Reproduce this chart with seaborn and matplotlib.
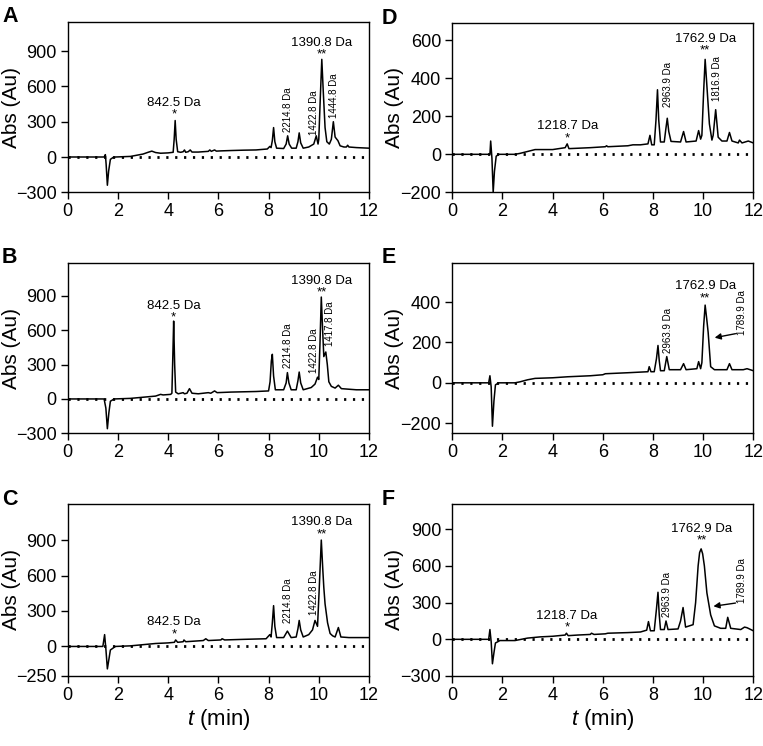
import numpy as np
import pandas as pd
import matplotlib
matplotlib.use("Agg")
import matplotlib.pyplot as plt
import seaborn as sns

# chromatogram traces: retention time (min) and absorbance (Au)
a_t = [0, 1.45, 1.5, 1.53, 1.58, 1.63, 1.7, 1.8, 1.9, 2.5, 3.0, 3.2, 3.35, 3.5, 3.7, 4.0, 4.2, 4.24, 4.28, 4.32,
       4.38, 4.5, 4.6, 4.65, 4.7, 4.8, 4.88, 4.95, 5.2, 5.6, 5.66, 5.72, 5.85, 5.92, 6.1, 6.5, 7.0, 7.5, 7.95, 8.05,
       8.1, 8.15, 8.2, 8.25, 8.32, 8.6, 8.7, 8.76, 8.82, 8.92, 9.1, 9.17, 9.22, 9.28, 9.38, 9.6, 9.8, 9.9, 9.97,
       10.0, 10.06, 10.12, 10.18, 10.25, 10.32, 10.42, 10.5, 10.58, 10.65, 10.72, 10.76, 10.85, 11.0, 11.1, 11.15,
       11.2, 11.5, 12.0]
a_y = [0, 0, 20, -60, -240, -120, -20, -5, 0, 5, 25, 40, 50, 38, 32, 35, 40, 150, 310, 150,
       45, 40, 45, 60, 40, 45, 60, 42, 42, 48, 60, 48, 60, 50, 52, 55, 58, 60, 68, 90,
       80, 140, 250, 130, 75, 72, 110, 180, 110, 75, 75, 130, 205, 120, 75, 85, 110, 180, 110,
       150, 500, 830, 550, 250, 130, 110, 150, 300, 170, 150, 140, 95, 85, 85, 100,
       85, 80, 75]

b_t = [0, 1.45, 1.52, 1.58, 1.64, 1.7, 1.85, 2.5, 3.0, 3.5, 3.7, 3.8, 4.1, 4.15, 4.19, 4.22, 4.26, 4.3, 4.4,
       4.6, 4.65, 4.75, 4.85, 4.95, 5.2, 5.6, 5.7, 5.85, 5.95, 6.5, 7.5, 8.0, 8.06, 8.11, 8.15, 8.2, 8.27, 8.6,
       8.7, 8.75, 8.81, 8.9, 9.1, 9.17, 9.22, 9.28, 9.38, 9.7, 9.85, 9.95, 10.0, 10.05, 10.1, 10.15, 10.2, 10.28,
       10.34, 10.4, 10.5, 10.65, 10.78, 10.9, 11.5, 12.0]
b_y = [0, 0, -80, -260, -120, -20, 0, 5, 15, 25, 40, 35, 40, 50, 400, 680, 300, 60, 45,
       55, 45, 50, 90, 50, 45, 55, 50, 70, 55, 60, 65, 70, 150, 330, 390, 200, 80, 80,
       140, 230, 140, 80, 80, 160, 235, 140, 80, 100, 130, 190, 170, 500, 890, 620, 370, 410,
       300, 150, 110, 95, 120, 90, 80, 80]

c_t = [0, 1.4, 1.47, 1.52, 1.58, 1.64, 1.7, 1.9, 2.5, 3.0, 3.5, 4.0, 4.25, 4.3, 4.38, 4.6, 4.63, 4.7, 5.4, 5.5,
       5.6, 6.1, 6.15, 6.25, 7.0, 7.9, 8.05, 8.1, 8.15, 8.2, 8.25, 8.32, 8.6, 8.75, 8.9, 9.1, 9.17, 9.22, 9.28,
       9.38, 9.6, 9.75, 9.85, 9.95, 10.02, 10.1, 10.16, 10.2, 10.25, 10.35, 10.45, 10.55, 10.65, 10.78, 10.88,
       11.2, 12.0]
c_y = [0, 0, 100, -20, -190, -110, -30, 0, 5, 15, 25, 30, 35, 55, 35, 40, 55, 40, 50, 65,
       50, 55, 65, 55, 60, 65, 100, 80, 200, 345, 170, 75, 75, 130, 75, 80, 150, 220, 140,
       80, 100, 140, 220, 170, 500, 900, 650, 500, 360, 200, 110, 90, 80, 160, 80,
       75, 75]

d_t = [0, 1.5, 1.53, 1.58, 1.63, 1.68, 1.75, 1.85, 2.5, 2.7, 3.0, 3.3, 3.5, 4.0, 4.5, 4.58, 4.65, 5.0, 5.5,
       6.1, 6.15, 6.2, 7.0, 7.2, 7.5, 7.8, 7.88, 7.95, 8.05, 8.12, 8.18, 8.23, 8.3, 8.45, 8.51, 8.57, 8.63, 8.72,
       9.1, 9.22, 9.32, 9.72, 9.82, 9.9, 9.95, 10.02, 10.08, 10.14, 10.25, 10.35, 10.4, 10.5, 10.6, 10.75, 10.95,
       11.05, 11.15, 11.4, 11.45, 11.55, 11.8, 12.0]
d_y = [0, 0, 70, -20, -200, -90, -10, 0, 0, 5, 15, 25, 25, 25, 35, 55, 30, 32, 35,
       40, 45, 40, 45, 50, 50, 55, 100, 50, 50, 180, 340, 180, 65, 65, 130, 190, 120, 68,
       65, 120, 65, 70, 125, 80, 100, 330, 500, 380, 160, 75, 100, 235, 90, 70, 70,
       115, 70, 60, 75, 60, 70, 60]

e_t = [0, 1.45, 1.5, 1.55, 1.6, 1.66, 1.72, 1.85, 2.5, 2.7, 3.0, 3.3, 4.0, 4.6, 5.5, 6.0, 6.1, 7.0, 7.8, 7.85,
       7.92, 8.05, 8.14, 8.2, 8.25, 8.3, 8.45, 8.55, 8.65, 9.1, 9.22, 9.32, 9.75, 9.82, 9.9, 9.95, 10.02, 10.08,
       10.14, 10.2, 10.3, 10.45, 10.95, 11.05, 11.15, 11.6, 11.75, 12.0]
e_y = [0, 0, 35, -20, -215, -90, -10, 0, 0, 5, 15, 22, 25, 30, 35, 40, 45, 50, 55, 80,
       55, 55, 120, 185, 110, 60, 60, 130, 65, 65, 95, 65, 70, 105, 70, 100, 280, 385,
       320, 250, 80, 65, 65, 95, 65, 65, 70, 60]

f_t = [0, 1.45, 1.5, 1.55, 1.6, 1.66, 1.72, 1.9, 2.5, 3.0, 3.5, 4.0, 4.5, 4.55, 4.62, 5.0, 5.5, 5.55, 5.65, 6.1,
       6.2, 7.0, 7.5, 7.75, 7.82, 7.9, 8.05, 8.14, 8.2, 8.25, 8.3, 8.45, 8.52, 8.6, 9.0, 9.1, 9.2, 9.3, 9.6,
       9.7, 9.8, 9.86, 9.92, 9.98, 10.05, 10.15, 10.3, 10.45, 10.7, 10.9, 10.98, 11.1, 11.5, 11.65, 11.75, 12.0]
f_y = [0, 0, 80, -20, -200, -110, -30, -10, -10, 10, 20, 25, 35, 50, 30, 35, 40, 50, 40, 45,
       50, 55, 60, 75, 145, 70, 70, 250, 385, 200, 80, 80, 150, 80, 85, 150, 260, 100, 120,
       300, 600, 710, 740, 700, 600, 380, 200, 110, 90, 90, 180, 90, 80, 100, 95, 70]

x_ticks = [0, 2, 4, 6, 8, 10, 12]

sns.set_style("ticks")
plt.rcParams['font.family'] = ['Liberation Sans', 'DejaVu Sans']
plt.rcParams['mathtext.fontset'] = 'custom'
plt.rcParams['mathtext.it'] = 'Liberation Sans:italic'
plt.rcParams['mathtext.rm'] = 'Liberation Sans'
plt.rcParams['text.color'] = 'black'
plt.rcParams['xtick.color'] = 'black'
plt.rcParams['ytick.color'] = 'black'
plt.rcParams['xtick.labelcolor'] = 'black'
plt.rcParams['ytick.labelcolor'] = 'black'

W, H = 763, 746
fig = plt.figure(figsize=(W / 100, H / 100), dpi=100)


def box(left, top, right, bottom):
    return [left / W, 1 - bottom / H, (right - left) / W, (bottom - top) / H]


# panel: letter, trace, axes box (px), ylim, yticks, annotations
# annotation: (text, t, y, kind) kind = 'm' mass label with star(s) below (y = star height), 'v' rotated
panels = [
    ("A", a_t, a_y, box(67.7, 21.7, 369, 192.3), (-300, 1150), [-300, 0, 300, 600, 900],
     [("842.5 Da\n*", 4.24, 370, 'm'), ("1390.8 Da\n**", 10.12, 877, 'm'),
      ("2214.8 Da", 8.79, 215, 'v'), ("1422.8 Da", 9.79, 190, 'v'), ("1444.8 Da", 10.62, 330, 'v')]),
    ("B", b_t, b_y, box(67.7, 262.7, 369, 433.3), (-300, 1190), [-300, 0, 300, 600, 900],
     [("842.5 Da\n*", 4.21, 720, 'm'), ("1390.8 Da\n**", 10.12, 932, 'm'),
      ("2214.8 Da", 8.79, 272, 'v'), ("1422.8 Da", 9.79, 229, 'v'), ("1417.8 Da", 10.45, 460, 'v')]),
    ("C", c_t, c_y, box(67.7, 504, 369, 676), (-250, 1205), [-250, 0, 300, 600, 900],
     [("842.5 Da\n*", 4.24, 110, 'm'), ("1390.8 Da\n**", 10.12, 956, 'm'),
      ("2214.8 Da", 8.79, 195, 'v'), ("1422.8 Da", 9.79, 265, 'v')]),
    ("D", d_t, d_y, box(452.3, 23.3, 753.3, 192.3), (-200, 690), [-200, 0, 200, 400, 600],
     [("1218.7 Da\n*", 4.6, 89, 'm'), ("1762.9 Da\n**", 10.08, 552, 'm'),
      ("2963.9 Da", 8.61, 251, 'v'), ("1816.9 Da", 10.54, 280, 'v')]),
    ("E", e_t, e_y, box(452.3, 262.7, 753.3, 433.3), (-250, 595), [-200, 0, 200, 400],
     [("1762.9 Da\n**", 10.08, 423, 'm'),
      ("2963.9 Da", 8.61, 148, 'v'), ("1789.9 Da", 11.53, 238, 'v')]),
    ("F", f_t, f_y, box(452.3, 504, 753.3, 676), (-300, 1107), [-300, 0, 300, 600, 900],
     [("1218.7 Da\n*", 4.57, 104, 'm'), ("1762.9 Da\n**", 9.94, 813, 'm'),
      ("2963.9 Da", 8.55, 185, 'v'), ("1789.9 Da", 11.53, 295, 'v')]),
]

arrows = {"E": ((11.4, 246), (10.35, 221)), "F": ((11.4, 300), (10.3, 267))}

note_size = 9.5
for letter, tt, yy, rect, ylim, yticks, notes in panels:
    ax = fig.add_axes(rect)
    df = pd.DataFrame({"t": tt, "abs": yy})
    sns.lineplot(data=df, x="t", y="abs", ax=ax, color="black", lw=1.1,
                 estimator=None, sort=False)
    ax.axhline(0, color="black", lw=2.0, ls=(0, (0.8, 2.4)), zorder=1)
    ax.set_xlim(0, 12)
    ax.set_ylim(*ylim)
    ax.set_xticks(x_ticks)
    ax.set_yticks(yticks)
    ax.set_xlabel("")
    ax.set_ylabel("")
    ax.tick_params(labelsize=13, length=5, width=1, color="black", labelcolor="black", pad=3)
    for s in ax.spines.values():
        s.set_visible(True)
        s.set_linewidth(1)
        s.set_color("black")
    for text, x, y, kind in notes:
        if kind == 'm':
            ax.annotate(text, xy=(x, y), xytext=(0, -0.5 * note_size), textcoords="offset points",
                        ha="center", va="bottom", multialignment="center", linespacing=0.95,
                        fontsize=note_size, color="black")
        else:
            ax.text(x, y, text, ha="center", va="bottom", rotation=90, fontsize=7.0, color="black")
    if letter in arrows:
        start, end = arrows[letter]
        ax.annotate("", xy=end, xytext=start,
                    arrowprops=dict(arrowstyle="-|>", color="black", lw=1, mutation_scale=9))
    x0 = rect[0] * W
    fig.text((2 if x0 < 300 else 382) / W, rect[1] + rect[3] + 15.5 / H, letter,
             fontsize=15.5, fontweight="bold", ha="left", va="top")
    fig.text((12 if x0 < 300 else 394) / W, rect[1] + rect[3] / 2, "Abs (Au)",
             rotation=90, ha="center", va="center", fontsize=15)

fig.text((67.7 + 369) / 2 / W, 1 - 720 / H, r"$t$ (min)", ha="center", va="center", fontsize=16)
fig.text((452.3 + 753.3) / 2 / W, 1 - 720 / H, r"$t$ (min)", ha="center", va="center", fontsize=16)

fig.savefig("out.png", dpi=100)
